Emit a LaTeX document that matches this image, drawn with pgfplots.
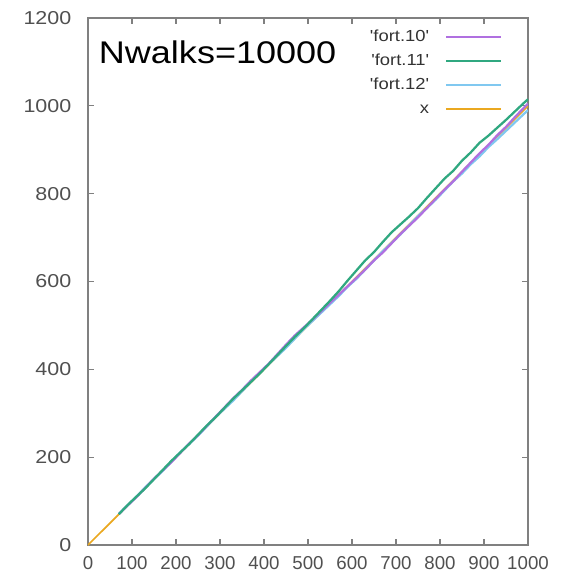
\documentclass[border=0pt]{standalone}
\usepackage{pgfplots}
\pgfplotsset{compat=1.18}
\usepackage{fontspec}
\setmainfont{Liberation Sans}
\newfontfamily\wideFont{Liberation Sans}[FakeStretch=1.15]
\definecolor{cpurple}{HTML}{B070E0}
\definecolor{cgreen}{HTML}{30A880}
\definecolor{cblue}{HTML}{80C8F0}
\definecolor{corange}{HTML}{EAA820}
\definecolor{axgray}{HTML}{808080}
\definecolor{labgray}{HTML}{505050}
\pgfplotstableread{
x y
70 70
90 90
110 109
130 130
150 151
170 170
190 189
210 210
230 231
250 250
270 271
290 292
310 313
330 334
350 353
370 374
390 393
410 412
430 434
450 456
470 477
490 495
510 513
530 532
550 551
570 570
590 589
610 608
630 627
650 648
670 666
690 687
710 708
730 727
750 746
770 767
790 788
810 809
830 828
850 850
870 871
890 892
910 911
930 933
950 952
970 974
990 995
1000 1005
}\fortten
\pgfplotstableread{
x y
70 70
90 91
110 110
130 129
150 150
170 171
190 192
210 211
230 230
250 251
270 272
290 291
310 312
330 333
350 352
370 371
390 390
410 411
430 432
450 453
470 474
490 493
510 514
530 535
550 556
570 578
590 602
610 625
630 648
650 667
670 690
690 712
710 730
730 748
750 767
770 790
790 812
810 834
830 852
850 875
870 894
890 916
910 932
930 950
950 968
970 987
990 1006
1000 1015
}\forteleven
\pgfplotstableread{
x y
70 71
90 90
110 110
130 131
150 150
170 169
190 190
210 211
230 230
250 249
270 270
290 291
310 310
330 329
350 350
370 371
390 392
410 411
430 430
450 449
470 470
490 491
510 510
530 529
550 548
570 567
590 588
610 606
630 627
650 648
670 669
690 688
710 707
730 728
750 749
770 767
790 786
810 807
830 828
850 846
870 867
890 885
910 906
930 924
950 943
970 962
990 981
1000 990
}\forttwelve
\pgfplotstableread{
x y
0 0
1000 1000
}\xline
\begin{document}
\begin{tikzpicture}
\begin{axis}[
  name=ax,
  scale only axis,
  width=330pt, height=395.25pt,
  xmin=0, xmax=1000, ymin=0, ymax=1200,
  xtick={0,100,...,1000}, ytick={0,200,...,1200},
  scaled ticks=false,
  /pgf/number format/assume math mode=true,
  /pgf/number format/set thousands separator={},
  tick align=inside,
  major tick length=4.5pt,
  axis line style={axgray, line width=1pt},
  every tick/.style={axgray, line width=0.8pt},
  tick label style={font=\fontsize{14}{16}\selectfont, text=labgray},
  yticklabel style={xshift=-9pt, font=\wideFont\fontsize{14}{16}\selectfont},
  xticklabel style={yshift=-5pt},
  legend plot pos=right,
  legend cell align=right,
  legend image code/.code={\draw[#1] (0pt,0pt) -- (41pt,0pt);},
  legend style={draw=none, fill=none, anchor=north east,
    at={(rel axis cs:0.941,0.978)}, inner sep=0pt, outer sep=0pt,
    font=\wideFont\fontsize{12}{14}\selectfont, text=black!80,
    row sep=7pt, column sep=12pt,
    nodes={inner sep=0pt, text height=9pt, text depth=2pt}},
]
\addplot[corange, line width=1.3pt, forget plot] table[x=x,y=y] {\xline};
\addplot[cblue, line width=1.7pt, forget plot] table[x=x,y=y] {\forttwelve};
\addplot[cpurple, line width=1.7pt, forget plot] table[x=x,y=y] {\fortten};
\addplot[cgreen, line width=1.7pt, forget plot] table[x=x,y=y] {\forteleven};
\addlegendimage{cpurple, line width=1.7pt}
\addlegendentry{'fort.10'}
\addlegendimage{cgreen, line width=1.7pt}
\addlegendentry{'fort.11'}
\addlegendimage{cblue, line width=1.7pt}
\addlegendentry{'fort.12'}
\addlegendimage{corange, line width=1.7pt}
\addlegendentry{x}
\node[anchor=base west, inner sep=0pt, font=\wideFont\fontsize{23.5}{26}\selectfont, text=black]
  at ([xshift=8pt, yshift=-34pt]rel axis cs:0,1) {Nwalks=10000};
\end{axis}
\pgfresetboundingbox
\path[use as bounding box] (-66pt,-24pt) rectangle (354pt,408.75pt);
\end{tikzpicture}
\end{document}
